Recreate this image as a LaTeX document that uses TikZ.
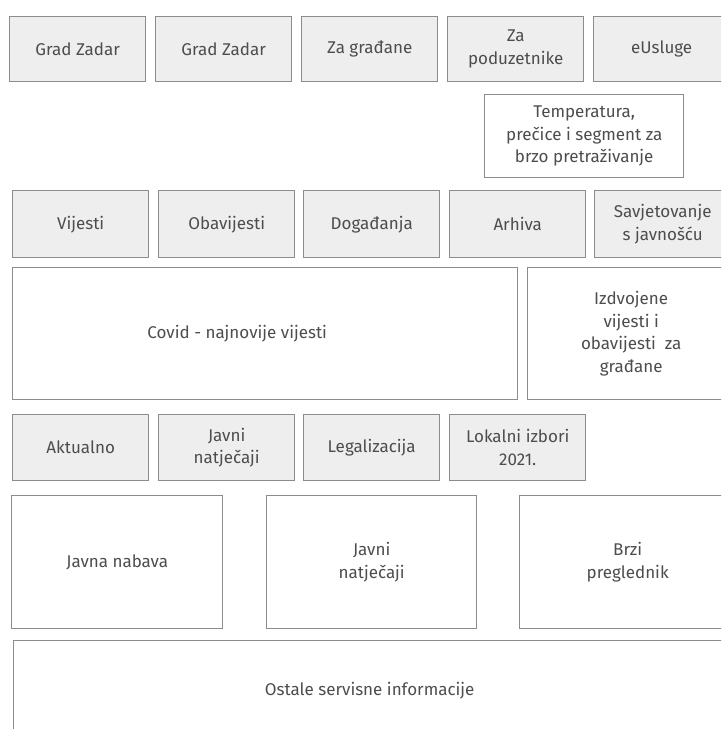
\documentclass[tikz,border=0pt]{standalone}
\usepackage{fontspec}
\setmainfont{Fira Sans}
\definecolor{boxline}{HTML}{8C8C8C}
\definecolor{boxfill}{HTML}{EEEEEE}
\definecolor{txt}{HTML}{4D4D4D}
\begin{document}
\begin{tikzpicture}[x=1pt,y=-1pt,
  base/.style={draw=boxline, line width=1.4pt, anchor=north west, inner sep=0pt,
    align=center, text=txt, font=\fontsize{17}{22.7}\selectfont},
  gbox/.style={base, fill=boxfill},
  wbox/.style={base, fill=white}]
\useasboundingbox (0,0) rectangle (721,729);
\clip (0,0) rectangle (721,729);
% row 1
\node[gbox, minimum width=136pt, minimum height=65pt] (g1) at (9,16) {Grad Zadar};
\node[gbox, minimum width=136pt, minimum height=65pt] (g2) at (155,16) {Grad Zadar};
\node[gbox, minimum width=136pt, minimum height=65pt] (g3) at (301,16) {Za građane};
\node[gbox, minimum width=136pt, minimum height=65pt] (g4) at (447,16) {Za\\poduzetnike};
\node[gbox, minimum width=136pt, minimum height=65pt] (g5) at (593,16) {eUsluge};
% temperatura
\node[wbox, minimum width=199pt, minimum height=83pt] (temp) at (484,94) {Temperatura,\\prečice i segment za\\brzo pretraživanje};
% row 3
\node[gbox, minimum width=136pt, minimum height=67pt] (v1) at (12,190) {Vijesti};
\node[gbox, minimum width=136pt, minimum height=67pt] (v2) at (158,190) {Obavijesti};
\node[gbox, minimum width=136pt, minimum height=67pt] (v3) at (303,190) {Događanja};
\node[gbox, minimum width=136pt, minimum height=67pt] (v4) at (449,190) {Arhiva};
\node[gbox, minimum width=136pt, minimum height=67pt] (v5) at (594,190) {Savjetovanje\\s javnošću};
% covid row
\node[wbox, minimum width=505pt, minimum height=132pt] (covid) at (12,267) {\hspace*{-56pt}Covid - najnovije vijesti};
\node[wbox, minimum width=207pt, minimum height=132pt] (izd) at (527,267) {Izdvojene\\vijesti i\\obavijesti\ \ za\\građane};
% row 5
\node[gbox, minimum width=136pt, minimum height=66pt] (a1) at (12,414) {Aktualno};
\node[gbox, minimum width=136pt, minimum height=66pt] (a2) at (158,414) {Javni\\natječaji};
\node[gbox, minimum width=136pt, minimum height=66pt] (a3) at (303,414) {Legalizacija};
\node[gbox, minimum width=136pt, minimum height=66pt] (a4) at (449,414) {Lokalni izbori\\2021.};
% row 6
\node[wbox, minimum width=211pt, minimum height=133pt] (jn) at (11,495) {Javna nabava};
\node[wbox, minimum width=210pt, minimum height=133pt] (jnat) at (266,495) {Javni\\natječaji};
\node[wbox, minimum width=216pt, minimum height=133pt] (brzi) at (519,495) {Brzi\\preglednik};
% bottom
\node[wbox, minimum width=712pt, minimum height=100pt] (ost) at (13,640) {Ostale servisne informacije};
\end{tikzpicture}
\end{document}
